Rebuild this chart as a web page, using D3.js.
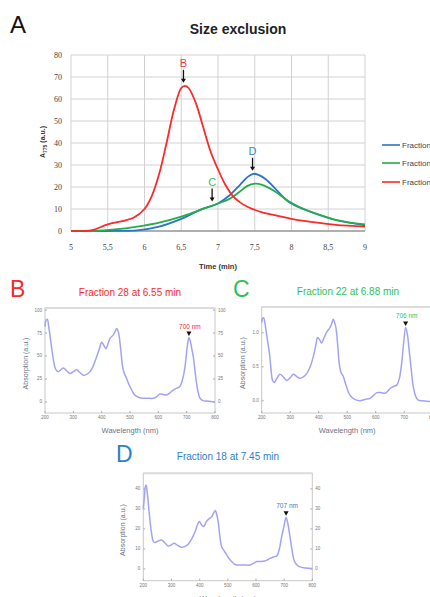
<!DOCTYPE html>
<html>
<head>
<meta charset="utf-8">
<script src="https://cdn.jsdelivr.net/npm/d3@7"></script>
<style>
  body { margin: 0; background: #fff; }
  svg { display: block; }
</style>
</head>
<body>
<div id="chart"></div>
<script>
'use strict';

// ---- size exclusion data (time in min, A775 in a.u.) ----
var timeTicks = [5, 5.5, 6, 6.5, 7, 7.5, 8, 8.5, 9];
var timeTickLabels = ['5', '5,5', '6', '6,5', '7', '7,5', '8', '8,5', '9'];
var absTicks = [0, 10, 20, 30, 40, 50, 60, 70, 80];
var legendLabels = ['Fraction 18', 'Fraction 22', 'Fraction 28'];

var fraction18 = [[5,0],[5.5,0],[5.9,0.3],[6.2,2],[6.5,5.5],[6.75,9.5],[7.0,12.5],[7.15,16],[7.3,21],
  [7.4,24.5],[7.48,26],[7.55,25.5],[7.65,23.5],[7.8,18.5],[7.95,13.5],[8.1,10.8],[8.3,8.2],[8.6,5],[9,2.6]];
var fraction22 = [[5,0],[5.3,0],[5.6,0.7],[5.9,2],[6.2,3.8],[6.5,6.5],[6.75,9.5],[7.0,12.5],[7.15,14.5],
  [7.3,18],[7.4,20.5],[7.5,21.5],[7.6,21],[7.75,18.5],[7.95,13.8],[8.1,11],[8.3,8.3],[8.6,5.1],[9,3]];
var fraction28 = [[5,0],[5.2,0],[5.3,0.5],[5.5,3],[5.7,4.5],[5.85,6],[6.0,10],[6.1,16],[6.2,26],[6.3,40],
  [6.4,55],[6.5,65],[6.55,66],[6.6,65],[6.7,58],[6.8,47],[6.9,36],[7.0,28],[7.1,21],[7.2,16],[7.3,13],
  [7.4,11],[7.6,8.5],[7.8,7],[8.0,5.5],[8.3,4],[8.6,2.8],[9,2]];

// ---- absorption spectra (wavelength nm, absorption a.u.) ----
var wlTicks = [200, 300, 400, 500, 600, 700, 800];
var ticksB = [0, 25, 50, 75, 100];
var ticksC = [0, 0.5, 1.0];
var tickLabelsC = ['0.0', '0.5', '1.0'];
var ticksD = [0, 10, 20, 30, 40];

var spectrumB = [[200,82],[204,89],[208,90],[214,80],[223,60],[230,45],[237,36],[247,33],[256,35],[265,37],
  [276,34],[288,31],[300,33],[312,35],[323,32],[335,29],[347,30],[359,33],[370,39],[382,49],[392,58],[400,65],
  [407,62],[415,58],[422,63],[429,69],[441,73],[448,77],[453,80],[458,77],[462,71],[468,55],[474,38],[480,31],
  [486,27],[495,20],[506,13],[515,8],[524,6],[535,4.5],[547,4],[565,4],[582,4],[595,6],[606,8.7],[618,8],
  [629,7.6],[641,10],[653,13],[665,15],[676,16.7],[685,24],[694,38],[702,60],[708,70],[713,66],[718,58],
  [723,50],[729,35],[735,20],[741,10],[747,4],[758,1.5],[771,1],[785,0.5],[800,0]];
var spectrumC = [[200,1.15],[203,1.21],[207,1.22],[211,1.15],[218,0.95],[227,0.70],[233,0.45],[238,0.30],
  [244,0.27],[252,0.32],[264,0.39],[276,0.35],[288,0.30],[300,0.34],[311,0.39],[322,0.36],[334,0.33],
  [346,0.35],[358,0.40],[370,0.50],[381,0.65],[390,0.82],[396,0.93],[403,0.90],[410,0.85],[418,0.92],
  [428,1.01],[440,1.08],[446,1.14],[451,1.20],[456,1.15],[461,1.06],[467,0.80],[472,0.55],[478,0.42],
  [486,0.36],[495,0.24],[504,0.13],[512,0.07],[521,0.035],[533,0.01],[545,0.0],[562,0.02],[580,0.035],
  [592,0.08],[604,0.12],[618,0.12],[633,0.11],[642,0.14],[650,0.18],[662,0.21],[674,0.23],[683,0.33],
  [691,0.55],[698,0.85],[705,1.08],[711,0.98],[718,0.72],[725,0.45],[732,0.20],[740,0.07],[749,0.01],
  [765,0],[790,-0.01],[800,-0.01]];
var spectrumD = [[200,30],[204,36],[207,41],[210,42],[214,38],[221,28],[228,19],[236,13.7],[242,13.2],
  [253,14],[265,14.5],[277,13],[289,11.5],[299,12],[309,12.8],[322,11.8],[336,10.8],[348,11.3],[360,12.5],
  [372,15],[384,18.7],[392,22],[399,23.7],[407,22],[415,21.2],[423,23.5],[431,24.8],[443,26.2],[450,28],
  [456,29.2],[461,27],[466,23.7],[472,16],[478,11.2],[485,9.5],[493,7.8],[503,5.5],[514,3.7],[522,2.5],
  [531,2],[555,2],[579,2],[591,2.8],[603,3.7],[618,3.8],[632,4],[641,4.6],[650,5.3],[662,6],[674,6.5],
  [683,10],[691,16],[699,21],[707,25.8],[714,22],[721,16],[728,9.5],[735,4.5],[744,2.2],[754,1.2],
  [775,0.5],[800,0.3]];

var svg = d3.select('#chart').append('svg')
  .attr('width', 430)
  .attr('height', 597);

// ================= panel A =================
var x = d3.scaleLinear().domain([5, 9]).range([71, 365]);
var y = d3.scaleLinear().domain([0, 80]).range([231, 55]);

svg.append('text').attr('x', 10).attr('y', 33)
  .style('font', '24px "Liberation Sans", Arial, sans-serif').attr('fill', '#111').text('A');
svg.append('text').attr('x', 238).attr('y', 34).attr('text-anchor', 'middle')
  .style('font', 'bold 14px "Liberation Sans", Arial, sans-serif').attr('fill', '#222').text('Size exclusion');

var grid = svg.append('g').attr('stroke', '#d2d2d2').attr('stroke-width', 1);
grid.selectAll('.v').data(timeTicks).enter().append('line')
  .attr('x1', function(d) { return x(d); }).attr('x2', function(d) { return x(d); })
  .attr('y1', y(80)).attr('y2', y(0));
grid.selectAll('.h').data(absTicks).enter().append('line')
  .attr('x1', x(5)).attr('x2', x(9))
  .attr('y1', function(d) { return y(d); }).attr('y2', function(d) { return y(d); });
svg.append('line').attr('x1', x(5)).attr('x2', x(9)).attr('y1', y(0)).attr('y2', y(0))
  .attr('stroke', '#777').attr('stroke-width', 1.2);

svg.append('g').selectAll('text').data(timeTicks).enter().append('text')
  .attr('x', function(d) { return x(d); }).attr('y', 250).attr('text-anchor', 'middle')
  .style('font', '8px "Liberation Serif", serif').attr('fill', '#444')
  .text(function(d, i) { return timeTickLabels[i]; });
svg.append('g').selectAll('text').data(absTicks).enter().append('text')
  .attr('x', 62).attr('y', function(d) { return y(d) + 3; }).attr('text-anchor', 'end')
  .style('font', '8px "Liberation Serif", serif').attr('fill', '#444')
  .text(function(d) { return d; });

svg.append('text').attr('x', 218).attr('y', 269).attr('text-anchor', 'middle')
  .style('font', 'bold 7.5px "Liberation Sans", Arial, sans-serif').attr('fill', '#333').text('Time (min)');
var yl = svg.append('text').attr('transform', 'translate(45,142) rotate(-90)').attr('text-anchor', 'middle')
  .style('font', 'bold 7px "Liberation Sans", Arial, sans-serif').attr('fill', '#333');
yl.append('tspan').text('A');
yl.append('tspan').attr('dy', 2).style('font-size', '5px').text('775');
yl.append('tspan').attr('dy', -2).text(' (a.u.)');

var line = d3.line()
  .x(function(d) { return x(d[0]); })
  .y(function(d) { return y(d[1]); })
  .curve(d3.curveCatmullRom.alpha(0.5));

var series = [
  { data: fraction18, color: '#2d74c6' },
  { data: fraction22, color: '#23ad4c' },
  { data: fraction28, color: '#fb2a2a' }
];
series.forEach(function(s) {
  svg.append('path').datum(s.data).attr('d', line)
    .attr('fill', 'none').attr('stroke', s.color).attr('stroke-width', 1.8);
});

// legend (runs off the right edge, as in the source figure)
series.forEach(function(s, i) {
  var ly = [145, 163, 182][i];
  svg.append('line').attr('x1', 382).attr('x2', 400).attr('y1', ly).attr('y2', ly)
    .attr('stroke', s.color).attr('stroke-width', 1.6);
  svg.append('text').attr('x', 402).attr('y', ly + 3)
    .style('font', '8px "Liberation Sans", Arial, sans-serif').attr('fill', '#444').text(legendLabels[i]);
});

// peak markers
function arrowDown(g, cx, y1, y2) {
  g.append('line').attr('x1', cx).attr('x2', cx).attr('y1', y1).attr('y2', y2 - 3)
    .attr('stroke', '#111').attr('stroke-width', 1.3);
  g.append('path').attr('d', 'M' + (cx - 2.5) + ',' + (y2 - 4) + 'L' + (cx + 2.5) + ',' + (y2 - 4) + 'L' + cx + ',' + y2 + 'Z')
    .attr('fill', '#111');
}
var marks = [
  { t: 6.53, label: 'B', color: '#f03a4a', v: 66 },
  { t: 6.92, label: 'C', color: '#3cc26a', v: 12 },
  { t: 7.47, label: 'D', color: '#3e86d0', v: 26 }
];
marks.forEach(function(m) {
  var tip = y(m.v) - 3;
  arrowDown(svg, x(m.t), tip - 13, tip);
  svg.append('text').attr('x', x(m.t)).attr('y', tip - 16).attr('text-anchor', 'middle')
    .style('font', '11px "Liberation Sans", Arial, sans-serif').attr('fill', m.color).text(m.label);
});

// ================= spectra =================
function spectrum(p) {
  var sx = d3.scaleLinear().domain([200, 800]).range([p.x0, p.x1]);
  var sy = d3.scaleLinear().domain(p.yDomain).range([p.y1, p.y0]);
  var g = svg.append('g');

  g.append('text').attr('x', p.letterX).attr('y', p.letterY)
    .style('font', '23px "Liberation Sans", Arial, sans-serif').attr('fill', p.color).text(p.letter);
  g.append('text').attr('x', p.titleX).attr('y', p.titleY).attr('text-anchor', 'middle')
    .style('font', '10px "Liberation Sans", Arial, sans-serif').attr('fill', p.color).text(p.title);

  g.append('rect').attr('x', p.x0).attr('y', p.y0).attr('width', p.x1 - p.x0).attr('height', p.y1 - p.y0)
    .attr('fill', 'none').attr('stroke', '#c8c8c8').attr('stroke-width', 1);
  g.append('line').attr('x1', p.x0).attr('x2', p.x1).attr('y1', p.y0).attr('y2', p.y0)
    .attr('stroke', '#dcdcdc').attr('stroke-width', 2);

  // x ticks
  g.selectAll('.xt').data(wlTicks).enter().append('line')
    .attr('x1', function(d) { return sx(d); }).attr('x2', function(d) { return sx(d); })
    .attr('y1', p.y1).attr('y2', p.y1 - 2).attr('stroke', '#aaa');
  g.selectAll('.xl').data(wlTicks).enter().append('text')
    .attr('x', function(d) { return sx(d); }).attr('y', p.y1 + 6).attr('text-anchor', 'middle')
    .style('font', '4.5px "Liberation Sans", Arial, sans-serif').attr('fill', '#777')
    .text(function(d) { return d; });

  // y ticks both sides
  p.ticks.forEach(function(t, i) {
    var lab = p.tickLabels ? p.tickLabels[i] : t;
    g.append('line').attr('x1', p.x0).attr('x2', p.x0 + 2).attr('y1', sy(t)).attr('y2', sy(t)).attr('stroke', '#aaa');
    g.append('line').attr('x1', p.x1).attr('x2', p.x1 - 2).attr('y1', sy(t)).attr('y2', sy(t)).attr('stroke', '#aaa');
    g.append('text').attr('x', p.x0 - 3).attr('y', sy(t) + 1.5).attr('text-anchor', 'end')
      .style('font', '4.5px "Liberation Sans", Arial, sans-serif').attr('fill', '#777').text(lab);
    g.append('text').attr('x', p.x1 + 3).attr('y', sy(t) + 1.5)
      .style('font', '4.5px "Liberation Sans", Arial, sans-serif').attr('fill', '#777').text(lab);
  });

  g.append('text').attr('transform', 'translate(' + p.ylabX + ',' + ((p.y0 + p.y1) / 2 + 3) + ') rotate(-90)')
    .attr('text-anchor', 'middle')
    .style('font', '7px "Liberation Sans", Arial, sans-serif').attr('fill', '#6a7285').text('Absorption (a.u.)');
  g.append('text').attr('x', (p.x0 + p.x1) / 2).attr('y', p.y1 + 20).attr('text-anchor', 'middle')
    .style('font', '7.5px "Liberation Sans", Arial, sans-serif').attr('fill', '#6a7285').text('Wavelength (nm)');

  var sline = d3.line()
    .x(function(d) { return sx(d[0]); })
    .y(function(d) { return sy(d[1]); })
    .curve(d3.curveCatmullRom.alpha(0.5));
  g.append('path').datum(p.data).attr('d', sline)
    .attr('fill', 'none').attr('stroke', '#a3a3f6').attr('stroke-width', 1.5);

  // peak marker
  var px = sx(p.peak[0]), py = sy(p.peak[1]);
  g.append('path').attr('d', 'M' + (px - 2.5) + ',' + (py - 6) + 'L' + (px + 2.5) + ',' + (py - 6) + 'L' + px + ',' + (py - 1.5) + 'Z')
    .attr('fill', '#111');
  g.append('text').attr('x', px + 1).attr('y', py - 9).attr('text-anchor', 'middle')
    .style('font', '6.5px "Liberation Sans", Arial, sans-serif').attr('fill', p.color).text(p.peakLabel);
}

spectrum({
  letter: 'B', letterX: 10, letterY: 297, color: '#f52a2a',
  title: 'Fraction 28 at 6.55 min', titleX: 130, titleY: 296,
  x0: 45, x1: 215, y0: 308, y1: 413, yDomain: [-12, 102.2], ticks: ticksB, ylabX: 28,
  data: spectrumB, peak: [708, 70], peakLabel: '700 nm'
});
spectrum({
  letter: 'C', letterX: 233, letterY: 297, color: '#2dbf60',
  title: 'Fraction 22 at 6.88 min', titleX: 348, titleY: 295,
  x0: 261.7, x1: 432.7, y0: 307, y1: 413, yDomain: [-0.18, 1.38], ticks: ticksC, tickLabels: tickLabelsC, ylabX: 245,
  data: spectrumC, peak: [705, 1.08], peakLabel: '706 nm'
});
spectrum({
  letter: 'D', letterX: 116, letterY: 462, color: '#2e7fce',
  title: 'Fraction 18 at 7.45 min', titleX: 228, titleY: 460,
  x0: 143.3, x1: 312.3, y0: 473.3, y1: 580.7, yDomain: [-5.85, 47.8], ticks: ticksD, ylabX: 125,
  data: spectrumD, peak: [707, 25.8], peakLabel: '707 nm'
});
</script>
</body>
</html>
